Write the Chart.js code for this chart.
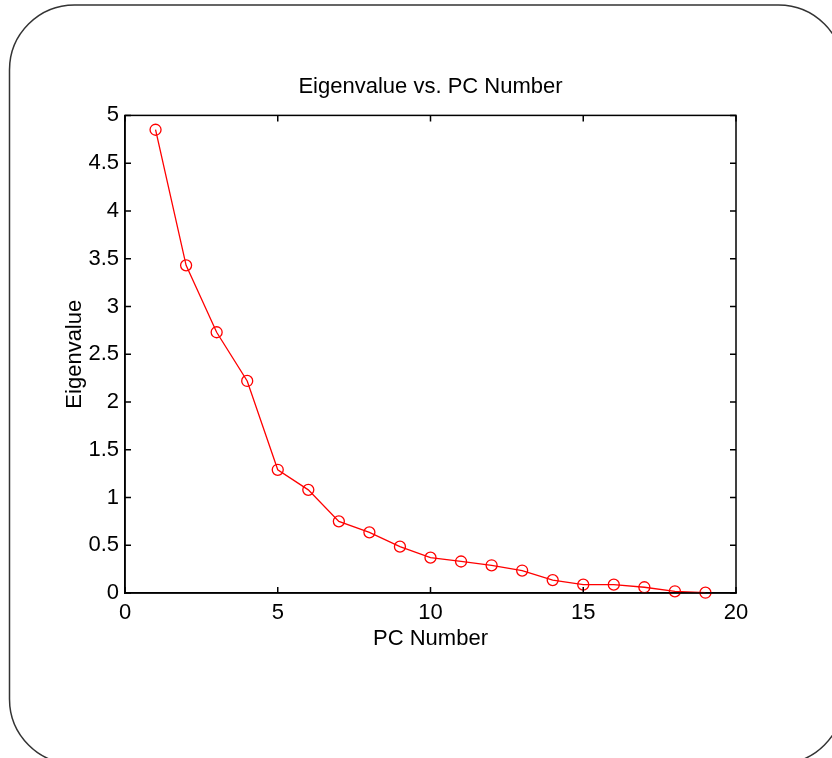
<!DOCTYPE html>
<html>
<head>
<meta charset="utf-8">
<script src="https://cdn.jsdelivr.net/npm/chart.js@4"></script>
<style>
  html, body { margin: 0; padding: 0; background: #fff; }
  canvas { display: block; }
</style>
</head>
<body>
<canvas id="screeChart" width="832" height="758"></canvas>
<script>
const pcNumbers = [1, 2, 3, 4, 5, 6, 7, 8, 9, 10, 11, 12, 13, 14, 15, 16, 17, 18, 19];
const eigenvalues = [4.85, 3.43, 2.73, 2.22, 1.29, 1.08, 0.75, 0.635, 0.485, 0.37, 0.33, 0.29, 0.235, 0.135, 0.087, 0.087, 0.06, 0.018, 0.003];
const xTickValues = [0, 5, 10, 15, 20];
const yTickValues = [0, 0.5, 1, 1.5, 2, 2.5, 3, 3.5, 4, 4.5, 5];
const yTickLabels = ['0', '0.5', '1', '1.5', '2', '2.5', '3', '3.5', '4', '4.5', '5'];

const FONT = "'Liberation Sans', Arial, sans-serif";

// rounded frame round the whole figure, and the matlab style box + inward ticks
const figureFrame = {
    id: 'figureFrame',
    beforeDraw(chart) {
        const ctx = chart.ctx;
        ctx.save();
        ctx.fillStyle = '#fff';
        ctx.fillRect(0, 0, chart.width, chart.height);
        ctx.beginPath();
        ctx.roundRect(9.5, 5, 834, 759, 65);
        ctx.strokeStyle = '#333';
        ctx.lineWidth = 1.5;
        ctx.stroke();
        ctx.restore();
    },
    afterDatasetsDraw(chart) {
        const { ctx, chartArea: a, scales: { x, y } } = chart;
        const len = 6;
        ctx.save();
        ctx.strokeStyle = '#000';
        ctx.lineWidth = 1.5;
        ctx.strokeRect(a.left, a.top, a.right - a.left, a.bottom - a.top);
        ctx.beginPath();
        xTickValues.forEach(v => {
            const px = x.getPixelForValue(v);
            ctx.moveTo(px, a.bottom); ctx.lineTo(px, a.bottom - len);
            ctx.moveTo(px, a.top); ctx.lineTo(px, a.top + len);
        });
        yTickValues.forEach(v => {
            const py = y.getPixelForValue(v);
            ctx.moveTo(a.left, py); ctx.lineTo(a.left + len, py);
            ctx.moveTo(a.right, py); ctx.lineTo(a.right - len, py);
        });
        ctx.stroke();
        ctx.restore();
    }
};

new Chart(document.getElementById('screeChart'), {
    type: 'line',
    data: {
        labels: pcNumbers,
        datasets: [{
            data: pcNumbers.map((n, i) => ({ x: n, y: eigenvalues[i] })),
            borderColor: '#ff0000',
            borderWidth: 1.3,
            backgroundColor: 'rgba(0,0,0,0)',
            pointStyle: 'circle',
            pointRadius: 5.5,
            pointBorderWidth: 1.3,
            pointBorderColor: '#ff0000',
            pointBackgroundColor: 'rgba(0,0,0,0)',
            tension: 0,
            clip: false
        }]
    },
    options: {
        responsive: false,
        animation: false,
        layout: { padding: { left: 0, top: 0, right: 96, bottom: 95 } },
        plugins: {
            legend: { display: false },
            tooltip: { enabled: false },
            title: {
                display: true,
                fullSize: false,
                text: 'Eigenvalue vs. PC Number',
                color: '#000',
                font: { family: FONT, size: 22, weight: 'normal' },
                padding: { top: 74, bottom: 15 }
            }
        },
        scales: {
            x: {
                type: 'linear',
                min: 0,
                max: 20,
                afterBuildTicks: s => { s.ticks = xTickValues.map(v => ({ value: v })); },
                afterFit: s => { s.height = 70; },
                grid: { display: false, drawTicks: false },
                border: { display: true, color: '#000', width: 1.5 },
                ticks: { color: '#000', padding: 7, maxRotation: 0, font: { family: FONT, size: 22 } },
                title: {
                    display: true,
                    text: 'PC Number',
                    color: '#000',
                    font: { family: FONT, size: 22 },
                    padding: { top: 0, bottom: 11 }
                }
            },
            y: {
                type: 'linear',
                min: 0,
                max: 5,
                afterBuildTicks: s => { s.ticks = yTickValues.map(v => ({ value: v })); },
                afterFit: s => { s.width = 125; },
                grid: { display: false, drawTicks: false },
                border: { display: true, color: '#000', width: 1.5 },
                ticks: {
                    color: '#000',
                    padding: 6,
                    font: { family: FONT, size: 22 },
                    callback: (value, i) => yTickLabels[i]
                },
                title: {
                    display: true,
                    text: 'Eigenvalue',
                    color: '#000',
                    font: { family: FONT, size: 22 },
                    padding: { top: 62, bottom: 0 }
                }
            }
        }
    },
    plugins: [figureFrame]
});
</script>
</body>
</html>
